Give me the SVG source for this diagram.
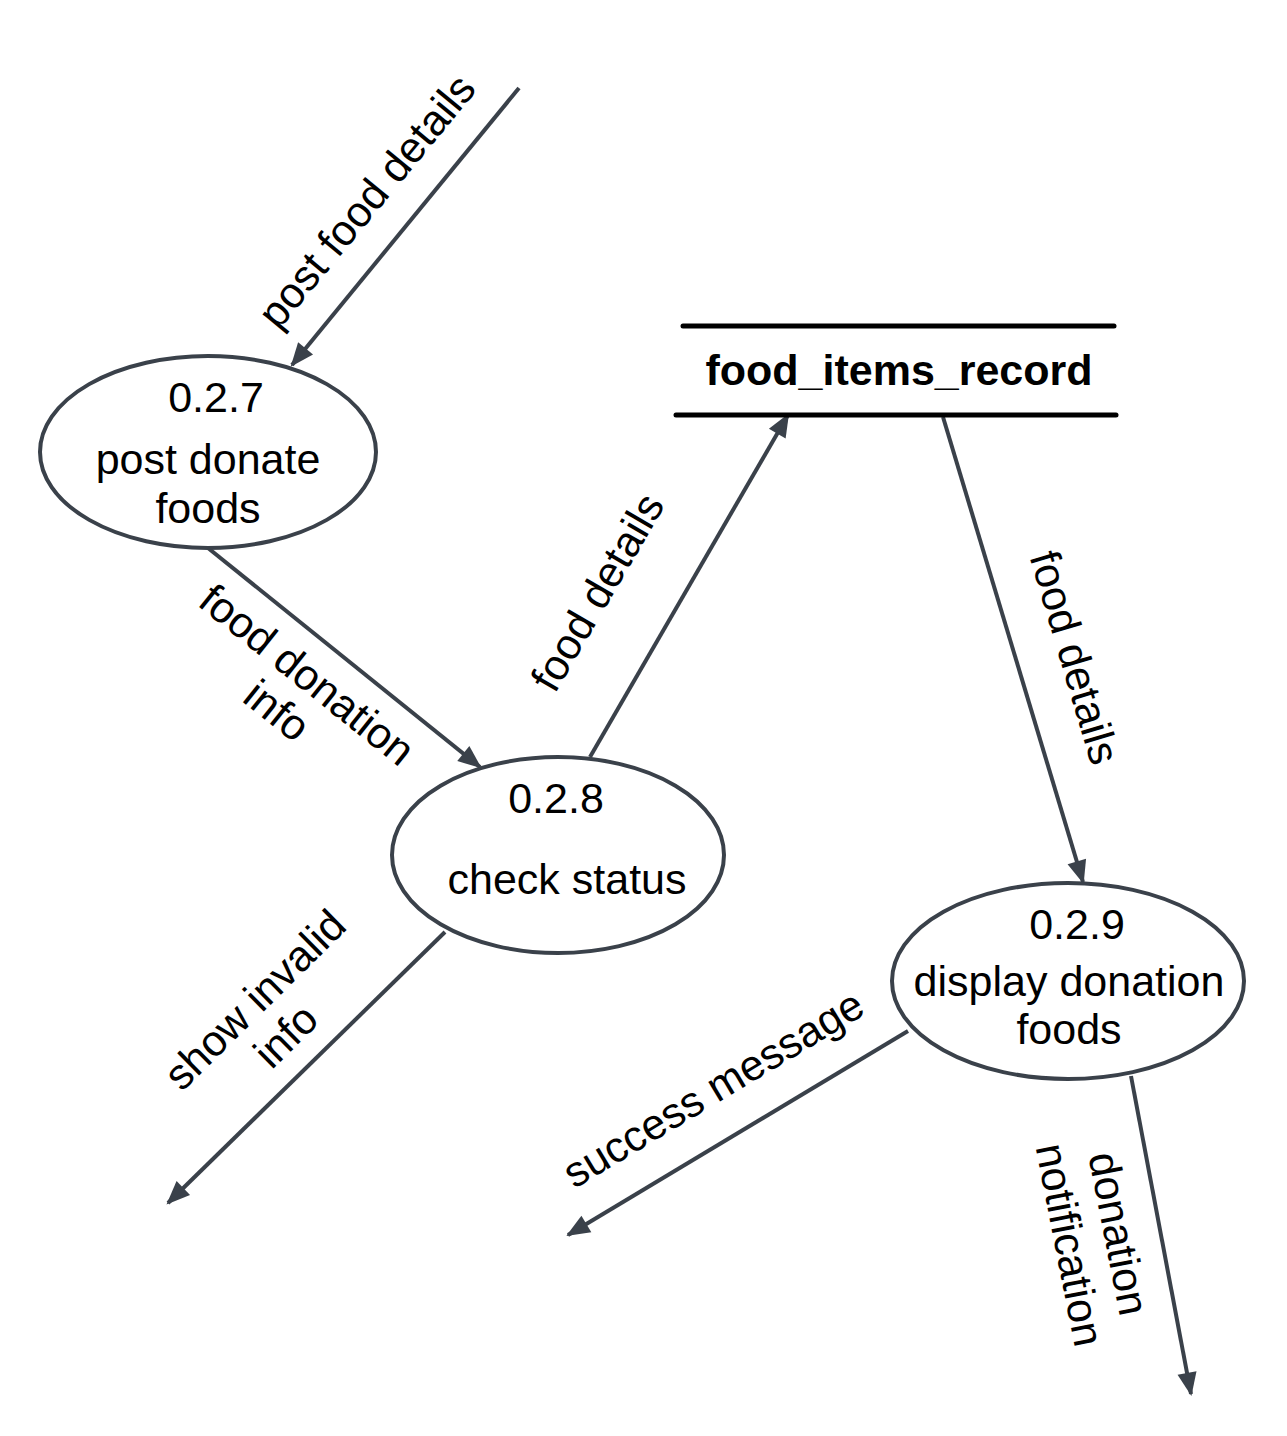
<svg xmlns="http://www.w3.org/2000/svg" width="1287" height="1436" viewBox="0 0 1287 1436">
<style>
text{font-family:"Liberation Sans",Arial,sans-serif;font-size:43px;fill:#000;text-anchor:middle}
.b{font-weight:bold}
.node{fill:#fff;stroke:#3a414a;stroke-width:4}
.conn{stroke:#3a414a;stroke-width:4;fill:none;marker-end:url(#arr)}
.store{stroke:#000;stroke-width:5;stroke-linecap:round}
</style>
<defs>
<marker id="arr" markerUnits="userSpaceOnUse" markerWidth="30" markerHeight="30" viewBox="-24 -12 28 24" refX="0" refY="0" orient="auto">
<path d="M2,0 L-20,-9 L-20,9 z" fill="#3a414a"/>
</marker>
</defs>
<rect width="1287" height="1436" fill="#fff"/>
<g id="connectors">
<line class="conn" x1="519" y1="88" x2="292" y2="365"/>
<line class="conn" x1="208" y1="548" x2="480" y2="767"/>
<line class="conn" x1="590" y1="757" x2="788" y2="415"/>
<line class="conn" x1="943" y1="417" x2="1083" y2="882"/>
<line class="conn" x1="445" y1="932" x2="168" y2="1203"/>
<line class="conn" x1="908" y1="1031" x2="568" y2="1235"/>
<line class="conn" x1="1131" y1="1076" x2="1191" y2="1394"/>
<text transform="translate(368,202) rotate(-50.4)" y="13">post food details</text>
<text transform="translate(306,676) rotate(38.7)" y="13">food donation</text>
<text transform="translate(276,712) rotate(38.7)" y="13">info</text>
<text transform="translate(599,593) rotate(-59.7)" y="13">food details</text>
<text transform="translate(1073,658) rotate(73.5)" y="13">food details</text>
<text transform="translate(256,1001) rotate(-44.6)" y="13">show invalid</text>
<text transform="translate(287,1037) rotate(-44.6)" y="13">info</text>
<text transform="translate(714,1090) rotate(-31)" y="13">success message</text>
<text transform="translate(1117,1234) rotate(78.9)" y="13">donation</text>
<text transform="translate(1068,1245) rotate(78.9)" y="13">notification</text>
</g>
<g id="store-food_items_record">
<line class="store" x1="683" y1="326" x2="1114" y2="326"/>
<line class="store" x1="676" y1="415" x2="1116" y2="415"/>
<text class="b" x="899" y="385">food_items_record</text>
</g>
<g id="node-027">
<ellipse class="node" cx="208" cy="452" rx="168" ry="96"/>
<text x="216" y="412">0.2.7</text>
<text x="208" y="474">post donate</text>
<text x="208" y="523">foods</text>
</g>
<g id="node-028">
<ellipse class="node" cx="558" cy="855" rx="166" ry="98"/>
<text x="556" y="813">0.2.8</text>
<text x="567" y="894">check status</text>
</g>
<g id="node-029">
<ellipse class="node" cx="1068" cy="981" rx="176" ry="98"/>
<text x="1077" y="939">0.2.9</text>
<text x="1069" y="996">display donation</text>
<text x="1069" y="1044">foods</text>
</g>
</svg>
